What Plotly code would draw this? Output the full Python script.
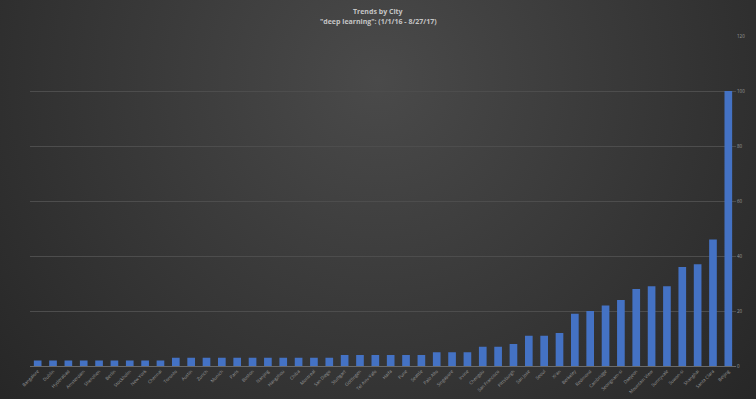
import plotly.graph_objects as go
import urllib.parse

cities = ["Bangalore", "Dublin", "Hyderabad", "Amsterdam", "Shenzhen", "Berlin", "Stockholm",
          "New York", "Chennai", "Toronto", "Austin", "Zurich", "Munich", "Paris", "Boston",
          "Nanjing", "Hangzhou", "Chiba", "Montreal", "San Diego", "Stuttgart", "Göttingen",
          "Tel Aviv-Yafo", "Haifa", "Pune", "Seattle", "Palo Alto", "Singapore", "Irvine",
          "Chengdu", "San Francisco", "Pittsburgh", "San Jose", "Seoul", "Xi'an", "Berkeley",
          "Redmond", "Cambridge", "Seongnam-si", "Daejeon", "Mountain View", "Sunnyvale",
          "Suwon-si", "Shanghai", "Santa Clara", "Beijing"]
values = [2, 2, 2, 2, 2, 2, 2, 2, 2,
          3, 3, 3, 3, 3, 3, 3, 3, 3, 3, 3,
          4, 4, 4, 4, 4, 4,
          5, 5, 5, 7, 7, 8, 11, 11, 12, 19, 20, 22, 24, 28, 29, 29, 36, 37, 46, 100]
y_ticks = [0, 20, 40, 60, 80, 100, 120]

title_line1 = "Trends by City"
title_line2 = "\"deep learning\": (1/1/16 - 8/27/17)"

svg = ("<svg xmlns='http://www.w3.org/2000/svg' width='756' height='399' preserveAspectRatio='none'>"
       "<defs><radialGradient id='g' gradientUnits='userSpaceOnUse' cx='378' cy='80' r='520'>"
       "<stop offset='0%' stop-color='#4a4a4a'/><stop offset='100%' stop-color='#252525'/>"
       "</radialGradient></defs><rect width='756' height='399' fill='url(#g)'/></svg>")
bg_src = "data:image/svg+xml;charset=utf-8," + urllib.parse.quote(svg)

L, R, T, B = 30, 20, 36, 33
PW, PH = 756 - L - R, 399 - T - B

fig = go.Figure()
fig.add_trace(go.Bar(
    x=cities, y=values,
    marker=dict(color="#4472c4", line=dict(width=0)),
))

fig.update_layout(
    width=756, height=399,
    margin=dict(l=L, r=R, t=T, b=B),
    paper_bgcolor="#333333",
    plot_bgcolor="rgba(0,0,0,0)",
    bargap=0.5,
    showlegend=False,
    images=[dict(source=bg_src, xref="paper", yref="paper", x=-L / PW, y=1 + T / PH,
                 sizex=756 / PW, sizey=399 / PH, sizing="stretch", xanchor="left",
                 yanchor="top", layer="below")],
    annotations=[
        dict(text="<b>" + title_line1 + "</b>", xref="paper", yref="paper",
             x=(378 - L) / PW, y=1 + (T - 12) / PH, showarrow=False,
             font=dict(family="Open Sans", size=7, color="#c4c4c4"),
             xanchor="center", yanchor="middle"),
        dict(text="<b>" + title_line2 + "</b>", xref="paper", yref="paper",
             x=(378 - L) / PW, y=1 + (T - 22) / PH, showarrow=False,
             font=dict(family="Open Sans", size=7, color="#c4c4c4"),
             xanchor="center", yanchor="middle"),
    ],
    xaxis=dict(
        type="category",
        tickangle=-45,
        automargin=False,
        tickfont=dict(family="Open Sans", size=4.5, color="#9a9a9a"),
        showgrid=False,
        showline=True, linecolor="#6a6a6a", linewidth=1,
        ticks="",
        range=[-0.5, len(cities) - 0.5],
    ),
    yaxis=dict(
        side="right",
        automargin=False,
        range=[0, 120],
        tickvals=y_ticks,
        tickfont=dict(family="Open Sans", size=4.5, color="#9a9a9a"),
        showgrid=True, gridcolor="#4d4d4d", gridwidth=1,
        zeroline=False,
        ticks="",
    ),
)

fig.write_html("out.html")
